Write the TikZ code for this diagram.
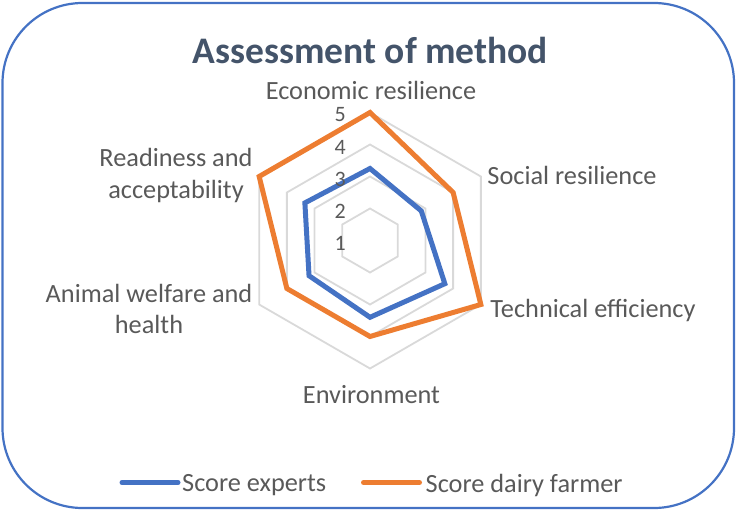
\documentclass[tikz,border=0pt]{standalone}
\usepackage{fontspec}
\setmainfont{Carlito}
\definecolor{xlblue}{HTML}{4472C4}
\definecolor{xlorange}{HTML}{ED7D31}
\definecolor{gridgray}{HTML}{D9D9D9}
\definecolor{txtgray}{HTML}{595959}
\definecolor{titlecol}{HTML}{44546A}
\begin{document}
\begin{tikzpicture}[x=1pt,y=-1pt,
  frame/.style={draw=xlblue,line width=2.2pt,rounded corners=80pt},
  gridline/.style={draw=gridgray,line width=1.8pt},
  series/.style={line width=5pt,line join=miter},
  legline/.style={line width=5pt,line cap=round},
  catlabel/.style={text=txtgray,font=\fontsize{26.3}{31.5}\selectfont,align=center,inner sep=0pt},
  ticklabel/.style={text=txtgray,font=\fontsize{22}{24}\selectfont,anchor=east,inner sep=0pt},
  titlelabel/.style={text=titlecol,font=\fontsize{37.5}{40}\selectfont\bfseries,inner sep=0pt}]
\useasboundingbox (0,0) rectangle (736,511);
\draw[frame] (2.5,3) rectangle (734,508);
\node[titlelabel] (title) at (370.5,50) {Assessment of method};
\begin{scope}[shift={(370,240.5)},yscale=-1]
  \coordinate (c) at (0,0);
  \foreach \r in {32,64,96,128}{
    \draw[gridline] (90:\r) -- (30:\r) -- (-30:\r) -- (-90:\r) -- (-150:\r) -- (150:\r) -- cycle;
  }
  \draw[series,draw=xlblue] (90:72) -- (30:59.2) -- (-30:86.4) -- (-90:76.8) -- (-150:70.4) -- (150:75.2) -- cycle;
  \draw[series,draw=xlorange] (90:128) -- (30:96) -- (-30:128) -- (-90:96) -- (-150:96) -- (150:128) -- cycle;
\end{scope}
\node[ticklabel] (t1) at (346,243) {1};
\node[ticklabel] (t2) at (346,211) {2};
\node[ticklabel] (t3) at (346,179) {3};
\node[ticklabel] (t4) at (346,147) {4};
\node[ticklabel] (t5) at (346,115) {5};
\node[catlabel] (econ) at (371,90) {Economic resilience};
\node[catlabel] (social) at (572,175) {Social resilience};
\node[catlabel] (tech) at (593,310) {Technical efficiency};
\node[catlabel] (env) at (371.5,395) {Environment};
\node[catlabel] (animal) at (149,309) {Animal welfare and\\health};
\node[catlabel] (ready) at (176,175.5) {Readiness and\\acceptability};
\coordinate (lb1) at (122,482.5);
\coordinate (lb2) at (178,482.5);
\coordinate (lo1) at (363.5,482.5);
\coordinate (lo2) at (419.5,482.5);
\draw[legline,draw=xlblue] (lb1) -- (lb2);
\draw[legline,draw=xlorange] (lo1) -- (lo2);
\node[catlabel,anchor=west] (lege) at (182,485) {Score experts};
\node[catlabel,anchor=west] (legf) at (425.5,485) {Score dairy farmer};
\end{tikzpicture}
\end{document}
